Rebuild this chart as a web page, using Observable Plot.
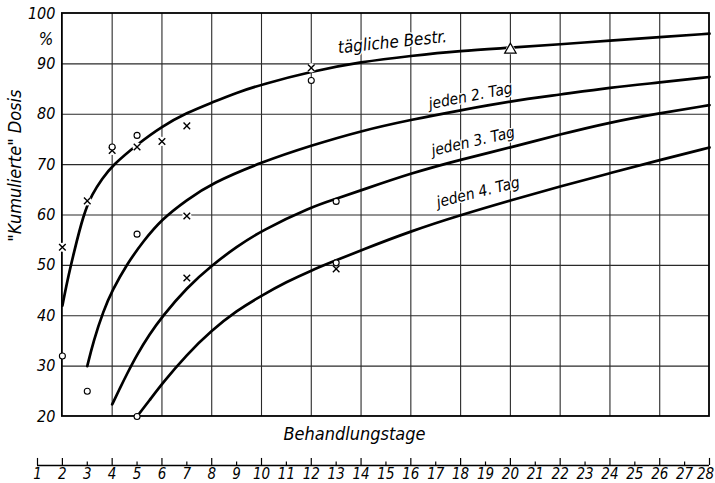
<!DOCTYPE html>
<html><head><meta charset="utf-8">
<script src="https://cdn.jsdelivr.net/npm/d3@7"></script>
<script src="https://cdn.jsdelivr.net/npm/@observablehq/plot@0.6"></script>
<style>
body{margin:0;background:#fff;}
svg text{font-family:"DejaVu Sans Condensed","DejaVu Sans",sans-serif;font-style:italic;font-stretch:condensed;}
</style></head><body><div id="chart"></div>
<script>
// Curves
const dailyDays = [2, 2.2, 2.45, 2.85, 3.2, 3.6, 4, 5, 6, 7, 8, 9, 10, 12, 14, 16, 18, 20, 22, 24, 26, 28];
const dailyDose = [42, 47, 52.3, 60.2, 64.2, 67.2, 69.8, 74, 77.6, 80.3, 82.3, 84.3, 85.9, 88.5, 90.4, 91.6, 92.6, 93.2, 93.9, 94.6, 95.3, 96];
const every2Days = [3, 3.25, 3.65, 4, 4.6, 5.25, 6, 7, 8, 10, 12, 14, 16, 18, 20, 22, 24, 26, 28];
const every2Dose = [30, 35, 41, 45, 50.3, 54.8, 59.2, 63, 66.3, 70.5, 73.8, 76.7, 78.9, 80.8, 82.6, 83.9, 85.3, 86.3, 87.4];
const every3Days = [4, 4.3, 4.6, 5, 5.5, 6, 7, 8, 9, 10, 12, 13, 14, 16, 18, 20, 22, 24, 26, 28];
const every3Dose = [22.4, 25.5, 28.5, 32.3, 36.3, 39.8, 45.6, 50, 53.7, 56.9, 61.6, 63.2, 64.9, 68.3, 71, 73.4, 76, 78.4, 80.2, 81.8];
const every4Days = [5, 5.5, 6, 7, 8, 9, 10, 11, 12, 13, 14, 16, 18, 20, 22, 24, 26, 28];
const every4Dose = [20, 23.2, 26.5, 32.3, 37.1, 41, 44, 46.7, 49, 51, 53, 56.8, 60, 62.9, 65.7, 68.3, 70.9, 73.4];

// Observations
const crossDays = [2, 3, 4, 5, 6, 7, 7, 7, 12, 13];
const crossDose = [53.6, 62.8, 72.8, 73.5, 74.6, 77.7, 59.8, 47.5, 89.2, 49.3];
const circleDays = [2, 3, 4, 5, 5, 5, 12, 13, 13];
const circleDose = [32, 25, 73.5, 75.8, 56.2, 20, 86.7, 62.7, 50.5];
const triangleDays = [20];
const triangleDose = [92.8];

// Labels
const curveLabels = ["tägliche Bestr.", "jeden 2. Tag", "jeden 3. Tag", "jeden 4. Tag"];
const curveLabelDays = [15.26, 18.4, 18.5, 18.7];
const curveLabelDose = [94.3, 83.6, 74.6, 64.5];
const curveLabelAngle = [-6, -11, -13, -14];
const curveLabelSize = [17, 15.5, 15.5, 15.5];

const xTicks = [1,2,3,4,5,6,7,8,9,10,11,12,13,14,15,16,17,18,19,20,21,22,23,24,25,26,27,28];
const yTicks = [20, 30, 40, 50, 60, 70, 80, 90, 100];
const gridDays = [4, 6, 8, 10, 12, 14, 16, 18, 20, 22, 24, 26];
const gridDose = [30, 40, 50, 60, 70, 80, 90];
const frameDays = [2, 28];
const frameDose = [20, 100];
const axisBase = 10.27; // where the detached day scale sits

const series = [
  ["daily", dailyDays, dailyDose],
  ["every2", every2Days, every2Dose],
  ["every3", every3Days, every3Dose],
  ["every4", every4Days, every4Dose]
];
const curveRows = series.flatMap(([s, ds, vs]) => ds.map((d, i) => ({series: s, day: d, dose: vs[i]})));
const crosses = crossDays.map((d, i) => ({day: d, dose: crossDose[i]}));
const circles = circleDays.map((d, i) => ({day: d, dose: circleDose[i]}));
const triangles = triangleDays.map((d, i) => ({day: d, dose: triangleDose[i]}));
const labelRows = curveLabels.map((t, i) => ({text: t, day: curveLabelDays[i], dose: curveLabelDose[i], angle: curveLabelAngle[i], size: curveLabelSize[i]}));
const lastTick = xTicks[xTicks.length - 1];

const chart = Plot.plot({
  width: 715, height: 483,
  marginLeft: 37, marginRight: 6, marginTop: 13, marginBottom: 18,
  x: {domain: [1, 28], axis: null},
  y: {domain: [axisBase, 100], axis: null},
  style: {background: "white", color: "black", overflow: "visible"},
  marks: [
    Plot.ruleY(gridDose, {y: d => d, x1: () => frameDays[0], x2: () => frameDays[1], stroke: "#2a2a2a", strokeWidth: 1.1}),
    Plot.ruleX(gridDays, {x: d => d, y1: () => frameDose[0], y2: () => frameDose[1], stroke: "#2a2a2a", strokeWidth: 1.1}),
    Plot.rect([0], {x1: () => frameDays[0], x2: () => frameDays[1], y1: () => frameDose[0], y2: () => frameDose[1], fill: "none", stroke: "black", strokeWidth: 1.8}),
    Plot.line(curveRows, {x: "day", y: "dose", z: "series", curve: "basis", stroke: "black", strokeWidth: 2.7}),
    Plot.dot([...crosses, ...triangles], {x: "day", y: "dose", r: 4.6, fill: "white", stroke: null}),
    Plot.dot(crosses, {x: "day", y: "dose", symbol: "times", r: 3.1, stroke: "black", strokeWidth: 1.4}),
    Plot.dot(circles, {x: "day", y: "dose", symbol: "circle", r: 3, fill: "white", stroke: "black", strokeWidth: 1.1}),
    Plot.dot(triangles, {x: "day", y: "dose", symbol: "triangle", r: 4.2, fill: "white", stroke: "black", strokeWidth: 1.3}),
    Plot.text(labelRows, {x: "day", y: "dose", text: "text", rotate: "angle", fontSize: "size", fill: "black", stroke: "white", strokeWidth: 2.5, paintOrder: "stroke"}),
    Plot.text(yTicks, {x: () => frameDays[0], y: d => d, text: d => String(d), textAnchor: "end", dx: -7, fontSize: 16}),
    Plot.text(["%"], {x: () => frameDays[0], y: () => 94.8, text: d => d, textAnchor: "end", dx: -9, fontSize: 17}),
    Plot.text(['"Kumulierte" Dosis'], {frameAnchor: "left", y: () => 54.7, text: d => d, rotate: -90, dx: -22, fontSize: 18}),
    Plot.text(["Behandlungstage"], {x: () => 10.88, y: () => 16.4, text: d => d, textAnchor: "start", fontSize: 18}),
    Plot.ruleY([axisBase], {y: d => d, x1: () => xTicks[0], x2: () => lastTick, stroke: "black", strokeWidth: 1.5}),
    Plot.ruleX(xTicks, {x: d => d, y1: () => axisBase, y2: d => axisBase + (d % 2 === 0 || d === 1 ? 1.4 : 0.7), stroke: "black", strokeWidth: 1.2}),
    Plot.text(xTicks.filter(d => d !== lastTick), {x: d => d, y: () => axisBase, text: d => String(d), lineAnchor: "top", dy: 3, fontSize: 15}),
    Plot.text([lastTick], {x: d => d, y: () => axisBase, text: d => String(d), lineAnchor: "top", dy: 3, dx: -4, fontSize: 15})
  ]
});
document.getElementById("chart").appendChild(chart);
</script></body></html>
